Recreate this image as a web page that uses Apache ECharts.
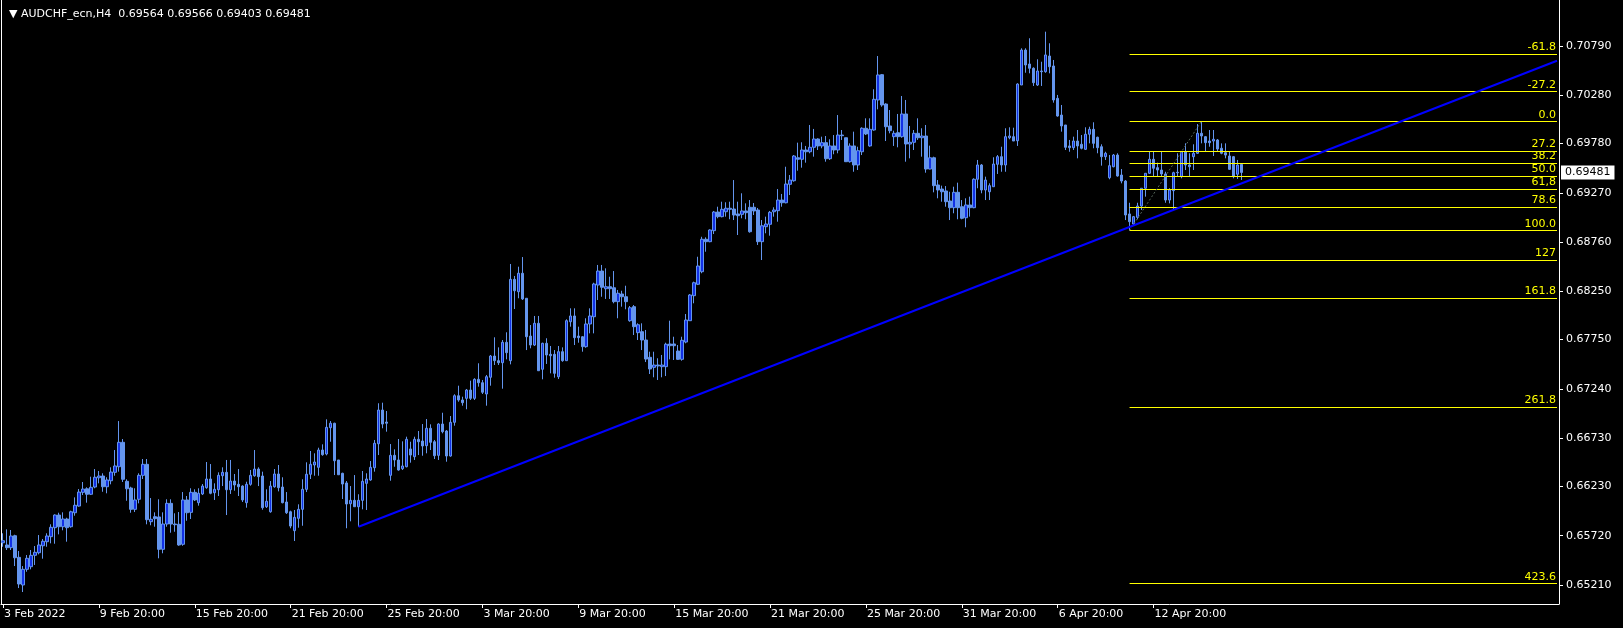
<!DOCTYPE html>
<html><head><meta charset="utf-8">
<script src="https://cdn.jsdelivr.net/npm/echarts@6/dist/echarts.min.js"></script>
<style>html,body{margin:0;padding:0;background:#000;}#c{width:1623px;height:628px;}</style>
</head><body><div id="c"></div>
<script>
const symbolName = 'AUDCHF_ecn,H4';
const xTickLabels = ['3 Feb 2022','9 Feb 20:00','15 Feb 20:00','21 Feb 20:00','25 Feb 20:00','3 Mar 20:00','9 Mar 20:00','15 Mar 20:00','21 Mar 20:00','25 Mar 20:00','31 Mar 20:00','6 Apr 20:00','12 Apr 20:00'];
const xTickEvery = 24;
const totalSlots = 390;
const yTickValues = [0.65210,0.65720,0.66230,0.66730,0.67240,0.67750,0.68250,0.68760,0.69270,0.69780,0.70280,0.70790];
const yMin = 0.65013, yMax = 0.71266;

const opens = [0.65647,0.65624,0.65596,0.65720,0.65496,0.65210,0.65372,0.65399,0.65517,0.65544,
0.65616,0.65658,0.65710,0.65803,0.65934,0.65813,0.65893,0.65813,0.65958,0.66027,
0.66169,0.66206,0.66149,0.66224,0.66320,0.66338,0.66227,0.66289,0.66376,0.66434,
0.66687,0.66283,0.66214,0.65993,0.66097,0.66345,0.66459,0.65865,0.65917,0.65914,
0.65579,0.65841,0.66055,0.65841,0.65838,0.65631,0.66090,0.65962,0.66169,0.66062,
0.66152,0.66217,0.66307,0.66165,0.66196,0.66341,0.66376,0.66196,0.66286,0.66252,
0.66234,0.66062,0.66252,0.66341,0.66410,0.66338,0.66020,0.65968,0.66227,0.66359,
0.66224,0.66069,0.65968,0.65772,0.65900,0.65993,0.66200,0.66356,0.66452,0.66428,
0.66607,0.66566,0.66838,0.66884,0.66504,0.66366,0.66266,0.66051,0.66086,0.66020,
0.66086,0.66262,0.66297,0.66424,0.66672,0.67021,0.66897,0.66345,0.66552,0.66504,
0.66414,0.66434,0.66618,0.66538,0.66718,0.66700,0.66652,0.66832,0.66693,0.66552,
0.66876,0.66804,0.66545,0.66894,0.67169,0.67125,0.67142,0.67228,0.67142,0.67339,
0.67304,0.67187,0.67360,0.67580,0.67532,0.67511,0.67722,0.67532,0.68374,0.68246,
0.68437,0.68178,0.67787,0.67694,0.67919,0.67443,0.67712,0.67598,0.67598,0.67366,
0.67625,0.67532,0.67935,0.67995,0.67787,0.67780,0.67677,0.67912,0.67987,0.68315,
0.68460,0.68277,0.68298,0.68287,0.68143,0.68222,0.68194,0.67946,0.68091,0.67822,
0.67832,0.67746,0.67567,0.67463,0.67487,0.67470,0.67470,0.67705,0.67705,0.67632,
0.67546,0.67725,0.67946,0.68205,0.68323,0.68453,0.68789,0.68764,0.68878,0.69071,
0.69023,0.69074,0.69110,0.69102,0.69051,0.69047,0.69082,0.69120,0.69120,0.69092,
0.68764,0.68919,0.68944,0.69074,0.69085,0.69195,0.69167,0.69358,0.69395,0.69633,
0.69617,0.69713,0.69695,0.69741,0.69827,0.69755,0.69789,0.69623,0.69755,0.69713,
0.69868,0.69840,0.69592,0.69755,0.69558,0.69695,0.69938,0.69755,0.69920,0.70231,
0.70493,0.70189,0.69962,0.69851,0.69892,0.69851,0.70086,0.69775,0.69793,0.69886,
0.69840,0.69858,0.69516,0.69633,0.69351,0.69309,0.69289,0.69185,0.69116,0.69275,
0.69126,0.69012,0.69144,0.69116,0.69410,0.69558,0.69299,0.69281,0.69333,0.69565,
0.69644,0.69558,0.69840,0.69851,0.69809,0.70386,0.70748,0.70603,0.70559,0.70386,
0.70531,0.70524,0.70686,0.70583,0.70248,0.70075,0.69972,0.69755,0.69737,0.69806,
0.69772,0.69720,0.69876,0.69927,0.69845,0.69747,0.69644,0.69426,0.69540,0.69661,
0.69454,0.69392,0.69051,0.68947,0.69016,0.69133,0.69317,0.69472,0.69617,0.69530,
0.69506,0.69465,0.69195,0.69292,0.69482,0.69437,0.69695,0.69558,0.69644,0.69679,
0.69886,0.69851,0.69806,0.69806,0.69817,0.69731,0.69685,0.69651,0.69644,0.69462,0.69564];

const highs = [0.65745,0.65786,0.65779,0.65730,0.65562,0.65406,0.65520,0.65572,0.65613,0.65727,
0.65686,0.65745,0.65838,0.65941,0.65958,0.65962,0.65906,0.65979,0.66117,0.66203,
0.66276,0.66221,0.66331,0.66410,0.66390,0.66366,0.66325,0.66428,0.66607,0.66907,
0.66721,0.66304,0.66227,0.66211,0.66366,0.66514,0.66514,0.66110,0.65962,0.66097,
0.65962,0.66097,0.66097,0.65952,0.65965,0.66172,0.66131,0.66211,0.66200,0.66211,
0.66255,0.66483,0.66462,0.66262,0.66376,0.66428,0.66504,0.66504,0.66359,0.66410,
0.66242,0.66279,0.66400,0.66607,0.66428,0.66383,0.66200,0.66286,0.66410,0.66452,
0.66325,0.66172,0.65979,0.65986,0.66045,0.66304,0.66480,0.66597,0.66573,0.66631,
0.66666,0.66925,0.66907,0.66890,0.66504,0.66372,0.66286,0.66234,0.66348,0.66149,
0.66390,0.66366,0.66493,0.66711,0.67091,0.67097,0.67011,0.66669,0.66614,0.66721,
0.66697,0.66745,0.66693,0.66745,0.66804,0.66876,0.66928,0.66873,0.66711,0.66884,
0.66993,0.66814,0.66959,0.67184,0.67273,0.67159,0.67239,0.67325,0.67350,0.67505,
0.67332,0.67384,0.67591,0.67774,0.67670,0.67746,0.67826,0.68533,0.68409,0.68505,
0.68605,0.68178,0.67901,0.67995,0.67995,0.67718,0.67764,0.67684,0.67642,0.67684,
0.67670,0.67960,0.68074,0.68074,0.67884,0.67787,0.67971,0.68074,0.68339,0.68523,
0.68523,0.68488,0.68401,0.68460,0.68264,0.68256,0.68308,0.68098,0.68108,0.67919,
0.67919,0.67850,0.67625,0.67625,0.67557,0.67591,0.67718,0.67946,0.67780,0.67694,
0.67780,0.68015,0.68222,0.68350,0.68608,0.68815,0.68809,0.68892,0.69082,0.69126,
0.69178,0.69172,0.69178,0.69402,0.69178,0.69265,0.69161,0.69195,0.69164,0.69113,
0.68988,0.69023,0.69082,0.69120,0.69309,0.69258,0.69540,0.69454,0.69661,0.69789,
0.69793,0.69755,0.69972,0.69931,0.69834,0.69851,0.69858,0.69824,0.69868,0.70075,
0.69920,0.69840,0.69782,0.69903,0.69747,0.69948,0.70041,0.70041,0.70342,0.70686,
0.70500,0.70197,0.70127,0.69913,0.70086,0.70272,0.70231,0.69962,0.69920,0.70041,
0.69938,0.69972,0.69758,0.69644,0.69402,0.69344,0.69340,0.69281,0.69333,0.69375,
0.69195,0.69213,0.69230,0.69420,0.69610,0.69568,0.69437,0.69368,0.69638,0.69661,
0.69747,0.69938,0.69948,0.69944,0.70404,0.70766,0.70766,0.70870,0.70569,0.70652,
0.70627,0.70938,0.70818,0.70645,0.70283,0.70179,0.69972,0.69817,0.69851,0.69920,
0.69868,0.69948,0.69954,0.70000,0.69851,0.69772,0.69695,0.69661,0.69672,0.69679,
0.69516,0.69402,0.69167,0.69030,0.69167,0.69317,0.69472,0.69695,0.69695,0.69582,
0.69695,0.69488,0.69317,0.69488,0.69679,0.69695,0.69782,0.69679,0.69772,0.69982,
0.70010,0.69858,0.69920,0.69920,0.69827,0.69782,0.69782,0.69695,0.69651,0.69610,0.69566];

const lows = [0.65606,0.65572,0.65572,0.65406,0.65178,0.65137,0.65347,0.65372,0.65417,0.65527,
0.65482,0.65606,0.65641,0.65637,0.65734,0.65776,0.65658,0.65803,0.65927,0.66020,
0.66141,0.66062,0.66141,0.66211,0.66262,0.66175,0.66159,0.66252,0.66341,0.66383,
0.66276,0.66082,0.65958,0.65965,0.66055,0.66307,0.65838,0.65828,0.65813,0.65486,
0.65538,0.65813,0.65751,0.65761,0.65616,0.65616,0.65875,0.65893,0.66079,0.66031,
0.66141,0.66206,0.66149,0.66090,0.66131,0.66234,0.65934,0.66152,0.66186,0.66131,
0.66069,0.66010,0.66238,0.66331,0.66234,0.65989,0.66007,0.65958,0.66217,0.66179,
0.66055,0.65945,0.65797,0.65665,0.65803,0.65823,0.66172,0.66307,0.66341,0.66341,
0.66548,0.66552,0.66693,0.66348,0.66348,0.66100,0.65797,0.65869,0.66020,0.65813,
0.65993,0.65986,0.66289,0.66383,0.66555,0.66832,0.66797,0.66289,0.66434,0.66393,
0.66400,0.66428,0.66476,0.66504,0.66555,0.66548,0.66573,0.66607,0.66514,0.66504,
0.66780,0.66486,0.66538,0.66859,0.67107,0.67066,0.67029,0.67125,0.67125,0.67263,
0.67187,0.67066,0.67273,0.67487,0.67487,0.67242,0.67546,0.67494,0.68067,0.68178,
0.68160,0.67642,0.67660,0.67684,0.67425,0.67339,0.67498,0.67401,0.67356,0.67342,
0.67521,0.67532,0.67884,0.67694,0.67718,0.67625,0.67666,0.67815,0.67815,0.68160,
0.68194,0.68171,0.68171,0.68126,0.67971,0.68091,0.68064,0.67935,0.67798,0.67746,
0.67642,0.67518,0.67394,0.67360,0.67332,0.67360,0.67373,0.67546,0.67539,0.67539,
0.67532,0.67712,0.67946,0.68126,0.68315,0.68437,0.68660,0.68758,0.68843,0.69006,
0.69016,0.69023,0.68996,0.68988,0.68833,0.69006,0.68996,0.68857,0.69040,0.68730,
0.68574,0.68851,0.68826,0.69023,0.68971,0.69126,0.69161,0.69247,0.69385,0.69499,
0.69530,0.69582,0.69679,0.69644,0.69713,0.69731,0.69592,0.69610,0.69669,0.69679,
0.69817,0.69589,0.69582,0.69488,0.69506,0.69661,0.69868,0.69747,0.69913,0.70134,
0.70161,0.69806,0.69886,0.69755,0.69741,0.69840,0.69592,0.69627,0.69713,0.69817,
0.69644,0.69478,0.69513,0.69275,0.69213,0.69178,0.69126,0.68988,0.69058,0.68996,
0.68996,0.68913,0.69023,0.69110,0.69317,0.69265,0.69195,0.69195,0.69333,0.69465,
0.69488,0.69488,0.69824,0.69806,0.69755,0.70386,0.70513,0.70507,0.70376,0.70376,
0.70376,0.70513,0.70507,0.70203,0.70058,0.69903,0.69713,0.69695,0.69713,0.69627,
0.69720,0.69713,0.69782,0.69731,0.69679,0.69551,0.69610,0.69410,0.69534,0.69437,
0.69368,0.68988,0.68880,0.68937,0.68996,0.69092,0.69230,0.69465,0.69437,0.69437,
0.69437,0.69167,0.69161,0.69092,0.69444,0.69420,0.69506,0.69437,0.69506,0.69672,
0.69782,0.69695,0.69747,0.69651,0.69695,0.69669,0.69627,0.69506,0.69420,0.69413,0.69403];

const closes = [0.65668,0.65596,0.65717,0.65492,0.65220,0.65372,0.65486,0.65517,0.65548,0.65624,
0.65662,0.65717,0.65807,0.65934,0.65813,0.65893,0.65803,0.65968,0.66035,0.66172,
0.66203,0.66149,0.66221,0.66325,0.66338,0.66227,0.66297,0.66379,0.66442,0.66687,
0.66304,0.66206,0.65993,0.66090,0.66345,0.66459,0.65886,0.65890,0.65896,0.65579,
0.65841,0.66055,0.65841,0.65834,0.65624,0.66090,0.65958,0.66169,0.66090,0.66159,
0.66234,0.66307,0.66159,0.66200,0.66345,0.66376,0.66196,0.66286,0.66245,0.66227,
0.66090,0.66252,0.66345,0.66410,0.66331,0.66010,0.66076,0.66234,0.66359,0.66217,
0.66062,0.65958,0.65820,0.65910,0.65993,0.66200,0.66356,0.66459,0.66483,0.66607,
0.66559,0.66842,0.66884,0.66496,0.66351,0.66255,0.66048,0.66086,0.66020,0.66086,
0.66283,0.66307,0.66428,0.66677,0.67021,0.66876,0.66884,0.66552,0.66504,0.66400,
0.66442,0.66718,0.66555,0.66718,0.66693,0.66649,0.66832,0.66687,0.66548,0.66876,
0.66797,0.66545,0.66894,0.67169,0.67125,0.67097,0.67228,0.67142,0.67339,0.67304,
0.67205,0.67366,0.67580,0.67532,0.67511,0.67722,0.67615,0.68374,0.68256,0.68437,
0.68171,0.67780,0.67694,0.67919,0.67428,0.67712,0.67591,0.67583,0.67401,0.67625,
0.67532,0.67946,0.67995,0.67770,0.67770,0.67677,0.67912,0.67995,0.68326,0.68460,
0.68292,0.68298,0.68277,0.68143,0.68230,0.68194,0.68143,0.68080,0.67884,0.67904,
0.67746,0.67549,0.67446,0.67487,0.67477,0.67487,0.67702,0.67687,0.67687,0.67546,
0.67743,0.67953,0.68212,0.68339,0.68512,0.68789,0.68764,0.68885,0.69071,0.69023,
0.69099,0.69110,0.69099,0.69040,0.69033,0.69082,0.69064,0.68867,0.69082,0.68764,
0.68929,0.68947,0.69068,0.69092,0.69195,0.69167,0.69361,0.69402,0.69651,0.69617,
0.69713,0.69695,0.69741,0.69827,0.69755,0.69789,0.69623,0.69755,0.69713,0.69868,
0.69861,0.69592,0.69755,0.69558,0.69706,0.69938,0.69879,0.69927,0.70238,0.70490,
0.70179,0.69954,0.69913,0.69886,0.69851,0.70086,0.69775,0.69793,0.69886,0.69840,
0.69858,0.69516,0.69633,0.69344,0.69299,0.69281,0.69178,0.69116,0.69275,0.69116,
0.69006,0.69144,0.69116,0.69410,0.69558,0.69299,0.69402,0.69344,0.69568,0.69644,
0.69558,0.69851,0.69858,0.69806,0.70396,0.70748,0.70593,0.70559,0.70410,0.70531,
0.70524,0.70697,0.70575,0.70231,0.70065,0.69962,0.69741,0.69737,0.69806,0.69755,
0.69731,0.69876,0.69927,0.69782,0.69737,0.69644,0.69679,0.69551,0.69661,0.69444,
0.69392,0.69040,0.68971,0.69023,0.69133,0.69317,0.69472,0.69617,0.69524,0.69506,
0.69465,0.69195,0.69299,0.69478,0.69478,0.69695,0.69558,0.69540,0.69679,0.69886,
0.69858,0.69789,0.69789,0.69824,0.69723,0.69679,0.69661,0.69513,0.69437,0.69558,0.69481];

const fibHigh = 0.70010, fibLow = 0.68880;
const fibStartBar = 282, fibHighBar = 300;
const fibLevels = [-61.8,-27.2,0,27.2,38.2,50,61.8,78.6,100,127,161.8,261.8,423.6];
const fibTexts = ['-61.8','-27.2','0.0','27.2','38.2','50.0','61,8','78.6','100.0','127','161.8','261.8','423.6'];
const trendStart = [89, 0.65813];
const trendEnd = [389, 0.70637];
const currentPrice = 0.69481;

const FONT = 'DejaVu Sans';
const chart = echarts.init(document.getElementById('c'), null, {renderer: 'canvas', width: 1623, height: 628});

const candleData = opens.map((o, i) => [o, closes[i], lows[i], highs[i]]);
const categories = [];
for (let i = 0; i < totalSlots; i++) {
  const k = i / xTickEvery;
  categories.push(i % xTickEvery === 0 && k < xTickLabels.length ? xTickLabels[k] : '');
}
const showTick = (idx) => idx % xTickEvery === 0 && idx / xTickEvery < xTickLabels.length;
const lastSlot = totalSlots - 1;
const fibRange = fibHigh - fibLow;
const last = opens.length - 1;
const headerText = '\u25BC ' + symbolName + '  ' + [opens[last], highs[last], lows[last], closes[last]].map(v => v.toFixed(5)).join(' ');

const markData = [];
fibLevels.forEach((lv, k) => {
  const p = fibHigh - lv / 100 * fibRange;
  markData.push([
    {coord: [fibStartBar, p], lineStyle: {color: '#FFFF00', width: 1, type: 'solid'},
     label: {show: true, position: 'insideEndTop', formatter: fibTexts[k], color: '#FFFF00', fontSize: 11, fontFamily: FONT, distance: 1}},
    {coord: [lastSlot, p]}
  ]);
});
markData.push([
  {coord: [fibStartBar, fibLow], lineStyle: {color: '#55665a', width: 1, type: [2, 2]}, label: {show: false}},
  {coord: [fibHighBar, fibHigh]}
]);
markData.push([
  {coord: trendStart, lineStyle: {color: '#0000FF', width: 2, type: 'solid'}, label: {show: false}},
  {coord: trendEnd}
]);
markData.push({
  yAxis: currentPrice,
  lineStyle: {color: 'rgba(0,0,0,0)', width: 1},
  label: {show: true, position: 'end', formatter: currentPrice.toFixed(5), color: '#000', backgroundColor: '#fff',
          padding: [2, 4, 1, 4], fontSize: 11, fontFamily: FONT, distance: 2}
});

chart.setOption({
  animation: false,
  backgroundColor: '#000',
  title: {
    text: headerText, left: 4, top: 4,
    textStyle: {color: '#fff', fontSize: 11, fontWeight: 'normal', fontFamily: FONT}
  },
  grid: {left: 1, right: 64, top: 0, bottom: 24, containLabel: false},
  xAxis: {
    type: 'category', data: categories, boundaryGap: true,
    axisLine: {show: true, lineStyle: {color: '#fff', width: 1}},
    axisTick: {show: true, alignWithLabel: true, interval: (i) => showTick(i), length: 4, lineStyle: {color: '#fff'}},
    axisLabel: {show: true, interval: (i) => showTick(i), align: 'left', color: '#fff', fontSize: 11, fontFamily: FONT, margin: 5, padding: [0, 0, 0, 1]},
    splitLine: {show: false}
  },
  yAxis: [{
    type: 'value', position: 'right', min: yMin, max: yMax,
    axisLine: {show: true, lineStyle: {color: '#fff', width: 1}},
    axisTick: {show: true, customValues: yTickValues, length: 4, lineStyle: {color: '#fff'}},
    axisLabel: {show: true, customValues: yTickValues, formatter: (v) => v.toFixed(5), color: '#fff', fontSize: 11, fontFamily: FONT, margin: 7},
    splitLine: {show: false}
  }, {
    type: 'value', position: 'left', min: yMin, max: yMax,
    axisLine: {show: true, lineStyle: {color: '#fff', width: 1}},
    axisTick: {show: false}, axisLabel: {show: false}, splitLine: {show: false}
  }],
  series: [{
    type: 'candlestick', yAxisIndex: 0, data: candleData, barWidth: 3,
    itemStyle: {color: '#1230e6', color0: '#6495ED', borderColor: '#6495ED', borderColor0: '#6495ED', borderWidth: 1},
    markLine: {silent: true, symbol: ['none', 'none'], animation: false, precision: 5, data: markData}
  }]
});
</script>
</body></html>
